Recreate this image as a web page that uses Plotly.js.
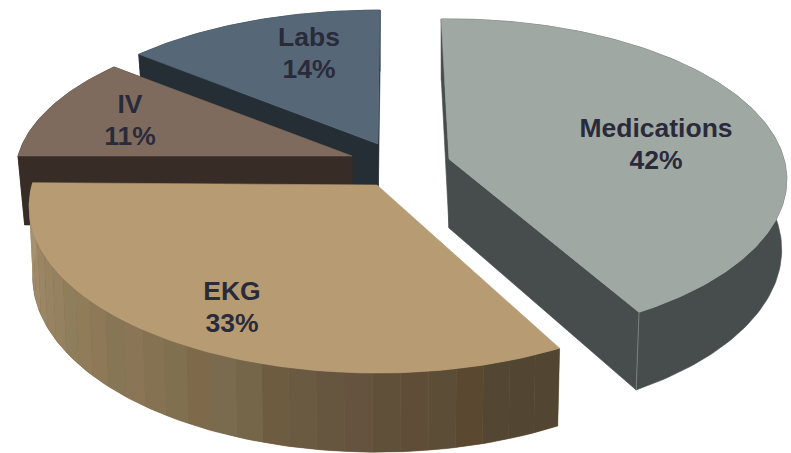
<!DOCTYPE html>
<html>
<head>
<meta charset="utf-8">
<script src="https://cdn.plot.ly/plotly-3.0.1.min.js"></script>
<style>html,body{margin:0;padding:0;background:#fff;overflow:hidden}#chart{width:791px;height:453px}</style>
</head>
<body>
<div id="chart"></div>
<script>
// Data
const categories = ['Medications', 'EKG', 'IV', 'Labs'];
const values = [42, 33, 11, 14];

// Styling
const topColors = ['#a0a8a4', '#b79c73', '#7f6b5e', '#566778'];
const sideColors = ['#474d4c', '#7f6a4d', '#372c26', '#262e35'];
const ekgWallShades = ['#524633','#524633','#534633','#5a4930','#5c4e36','#5f4d38','#60503a','#65533f','#66553f','#6a5a42','#6e5c41','#756649','#7a6a4e','#7e694b','#80704f','#857253','#8a7656','#867656','#8d7858','#917c5a','#8f7e5c','#95805f','#978362','#9a8564','#a08a66','#9f8a6c','#a38c6e','#a39070','#a69273'];
const startAngles = [-1.5, 152, 270, 310];
const apexX = [449, 377, 352, 378];
const apexY = [159, 185, 156, 144];
const radiusX = [335, 345, 334, 338];
const radiusY = [158, 164, 151, 151];
const tapers = [0.985, 0.99, 0.98, 0.98];
const perspective = 0.128;
const thickness = 69;
const labelX = [656, 232, 130, 309];
const nameY = [130, 293, 106, 39];
const pctY = [162, 325, 138, 71];

function project(i, deg, low) {
  const a = deg * Math.PI / 180, u = Math.sin(a), v = -Math.cos(a), w = 1 - perspective * v;
  return [
    apexX[i] + (low ? tapers[i] : 1) * radiusX[i] * u / w,
    apexY[i] + radiusY[i] * v / w + (low ? thickness / w : 0)
  ];
}
function apex(i, low) { return [apexX[i], apexY[i] + (low ? thickness : 0)]; }
function arc(i, a0, a1, low) {
  const pts = [], n = Math.max(2, Math.ceil(Math.abs(a1 - a0)));
  for (let k = 0; k <= n; k++) pts.push(project(i, a0 + (a1 - a0) * k / n, low));
  return pts;
}
function poly(pts, color, name, width) {
  const c = pts.concat([pts[0]]);
  return {
    type: 'scatter', mode: 'lines', x: c.map(p => p[0]), y: c.map(p => p[1]),
    fill: 'toself', fillcolor: color, line: {color: color, width: width === undefined ? 0.6 : width},
    hoverinfo: name ? 'text' : 'skip', text: name || '', hoveron: 'fills', showlegend: false
  };
}

const traces = [];
[3, 2, 1, 0].forEach(i => {
  const s = startAngles[i], e = s + values[i] * 3.6;
  const label = categories[i] + ' ' + values[i] + '%';
  traces.push(poly(arc(i, s, e, false).concat(arc(i, e, s, true)), sideColors[i]));
  if (i === 1) {
    const n = ekgWallShades.length;
    for (let k = 0; k < n; k++) {
      const a0 = s + (e - s) * k / n, a1 = s + (e - s) * (k + 1) / n;
      traces.push(poly(arc(i, a0, a1, false).concat(arc(i, a1, a0, true)), ekgWallShades[k], '', 0));
    }
  } else {
    traces.push(poly([apex(i, false), project(i, s, false), project(i, s, true), apex(i, true)], sideColors[i]));
    traces.push(poly([apex(i, false), project(i, e, false), project(i, e, true), apex(i, true)], sideColors[i]));
  }
  traces.push(poly([apex(i, false)].concat(arc(i, s, e, false)), topColors[i], label));
  if (i === 0) {
    const p = project(i, e, false), q = project(i, e, true);
    traces.push({type: 'scatter', mode: 'lines', x: [p[0], q[0]], y: [p[1], q[1]],
      line: {color: '#858c8a', width: 0.8}, hoverinfo: 'skip', showlegend: false});
  }
});

const font = {family: '"Liberation Sans", Arial, sans-serif', size: 26.5, color: '#2a2b3a'};
traces.push({type: 'scatter', mode: 'text', x: labelX, y: nameY, text: categories.map(c => '<b>' + c + '</b>'),
  textposition: 'middle center', textfont: font, hoverinfo: 'skip', showlegend: false});
traces.push({type: 'scatter', mode: 'text', x: labelX, y: pctY, text: values.map(v => '<b>' + v + '%</b>'),
  textposition: 'middle center', textfont: font, hoverinfo: 'skip', showlegend: false});

const hidden = {visible: false, fixedrange: true};
Plotly.newPlot('chart', traces, {
  width: 791, height: 453, margin: {l: 0, r: 0, t: 0, b: 0},
  paper_bgcolor: '#ffffff', plot_bgcolor: '#ffffff', showlegend: false,
  xaxis: Object.assign({range: [0, 791]}, hidden),
  yaxis: Object.assign({range: [453, 0]}, hidden)
}, {displayModeBar: false});
</script>
</body>
</html>
